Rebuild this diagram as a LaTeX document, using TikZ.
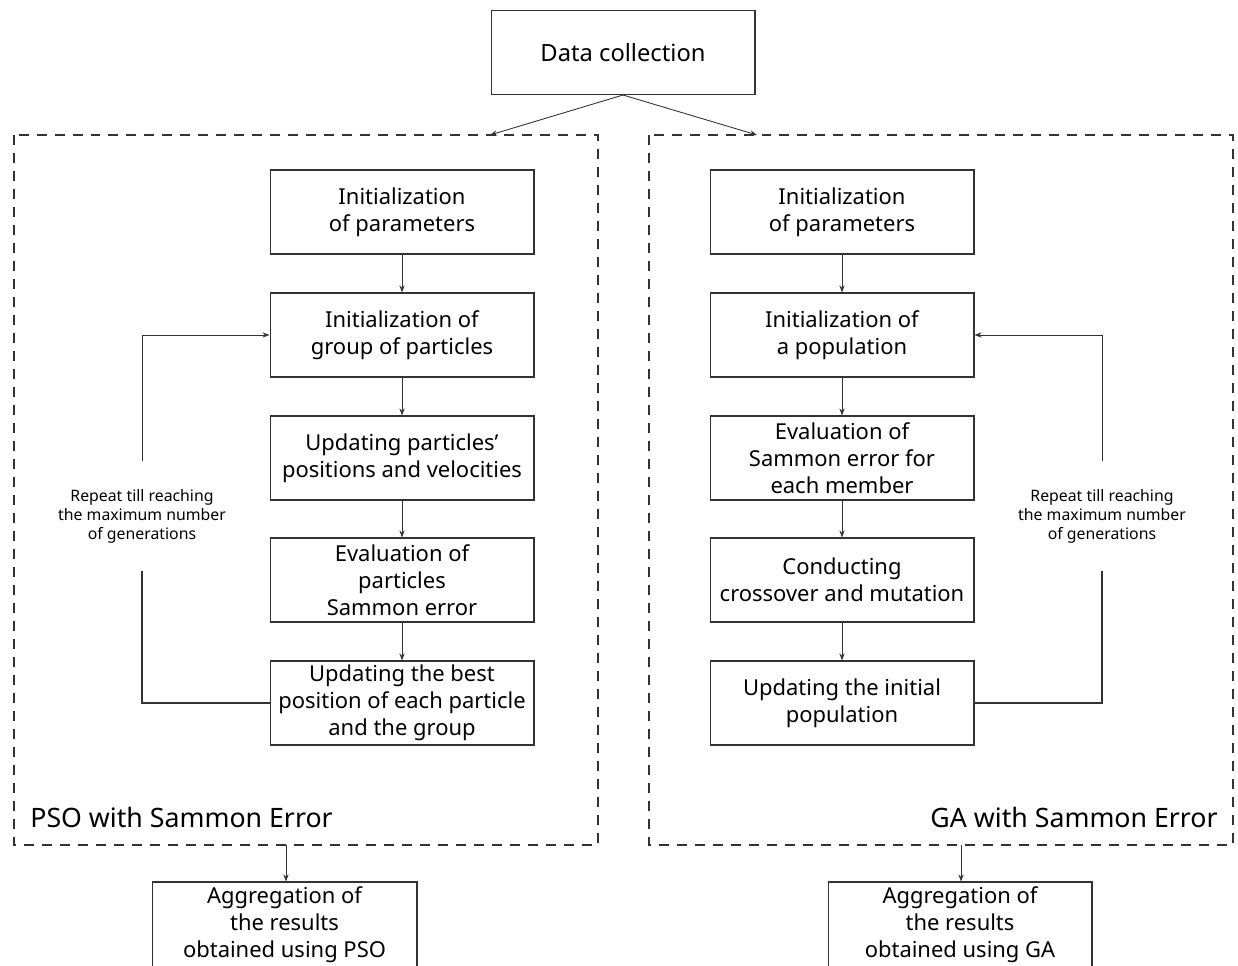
\documentclass[tikz,border=0pt]{standalone}
\usepackage{fontspec}
\setmainfont{Noto Sans}
\usetikzlibrary{arrows.meta}

\tikzset{
  stepbox/.style={draw=black!80, line width=0.6pt, minimum width=5.28cm, minimum height=1.68cm,
    align=center, inner sep=1pt, font=\fontsize{12.5}{15.3}\selectfont},
  groupbox/.style={draw=black!80, line width=0.6pt, dash pattern=on 0.2cm off 0.16cm},
  flow/.style={draw=black!80, line width=0.5pt, -{Stealth[length=4pt,width=3pt]}},
  loopline/.style={draw=black!80, line width=0.6pt},
  looptext/.style={align=center, inner xsep=2pt, inner ysep=0.56cm, font=\fontsize{9}{10.8}\selectfont},
  grouptitle/.style={inner sep=0pt, font=\fontsize{15.2}{18}\selectfont}
}

\begin{document}
\begin{tikzpicture}[x=0.02cm,y=-0.02cm]
\useasboundingbox (0,0) rectangle (1238,966);

% top
\node[stepbox, font=\fontsize{13.5}{16}\selectfont] (data) at (623,52.5) {Data collection};

% group frames
\draw[groupbox] (14,135) rectangle (598,845);
\draw[groupbox] (649,135) rectangle (1233,845);
\coordinate (psoin) at (490,135);
\coordinate (gain) at (757,135);
\coordinate (psoout) at (286,845);
\coordinate (gaout) at (961,845);
\node[grouptitle, anchor=west] (psotitle) at (30,817) {PSO with Sammon Error};
\node[grouptitle, anchor=east] (gatitle) at (1218,817) {GA with Sammon Error};

\draw[flow] (data.south) -- (psoin);
\draw[flow] (data.south) -- (gain);

% PSO column
\node[stepbox] (p1) at (402,212) {Initialization\\ of parameters};
\node[stepbox] (p2) at (402,335) {Initialization of\\ group of particles};
\node[stepbox] (p3) at (402,458) {Updating particles'\\ positions and velocities};
\node[stepbox] (p4) at (402,580) {Evaluation of\\ particles\\ Sammon error};
\node[stepbox] (p5) at (402,703) {Updating the best\\ position of each particle\\ and the group};

\draw[flow] (p1) -- (p2);
\draw[flow] (p2) -- (p3);
\draw[flow] (p3) -- (p4);
\draw[flow] (p4) -- (p5);

\node[looptext] (ploop) at (142,516) {Repeat till reaching\\ the maximum number\\ of generations};
\draw[loopline] (p5.west) -| (ploop.south);
\draw[flow] (ploop.north) |- (p2.west);

% GA column
\node[stepbox] (g1) at (842,212) {Initialization\\ of parameters};
\node[stepbox] (g2) at (842,335) {Initialization of\\ a population};
\node[stepbox] (g3) at (842,458) {Evaluation of\\ Sammon error for\\ each member};
\node[stepbox] (g4) at (842,580) {Conducting\\ crossover and mutation};
\node[stepbox] (g5) at (842,703) {Updating the initial\\ population};

\draw[flow] (g1) -- (g2);
\draw[flow] (g2) -- (g3);
\draw[flow] (g3) -- (g4);
\draw[flow] (g4) -- (g5);

\node[looptext] (gloop) at (1102,516) {Repeat till reaching\\ the maximum number\\ of generations};
\draw[loopline] (g5.east) -| (gloop.south);
\draw[flow] (gloop.north) |- (g2.east);

% results
\node[stepbox, minimum width=5.3cm, minimum height=1.72cm] (pres) at (284.5,925) {Aggregation of\\ the results\\ obtained using PSO};
\node[stepbox, minimum width=5.28cm, minimum height=1.72cm] (gres) at (960,925) {Aggregation of\\ the results\\ obtained using GA};

\draw[flow] (psoout) -- (psoout |- pres.north);
\draw[flow] (gaout) -- (gaout |- gres.north);
\end{tikzpicture}
\end{document}
